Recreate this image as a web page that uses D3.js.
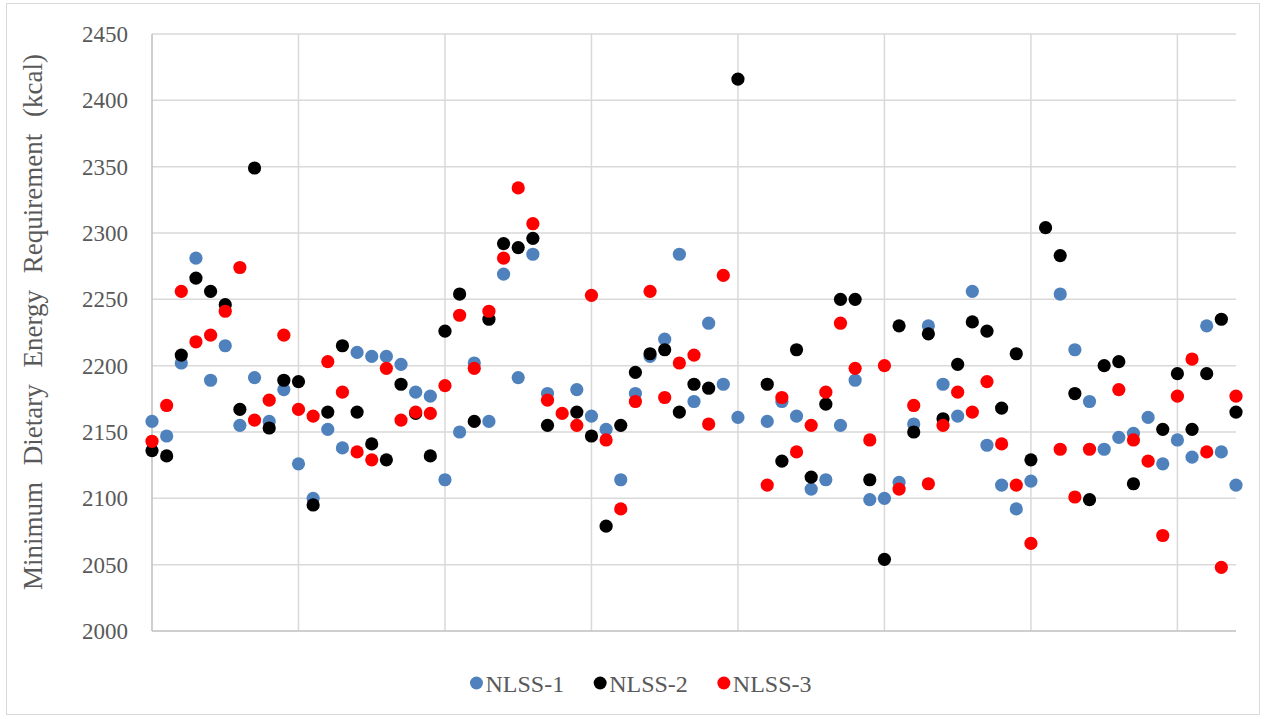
<!DOCTYPE html>
<html>

<head>
    <meta charset="utf-8">
    <title>Minimum Dietary Energy Requirement</title>
    <script src="https://d3js.org/d3.v7.min.js"></script>
    <style>
        body {
            margin: 0;
            background: #fff;
        }

        text {
            font-family: "Liberation Serif", "DejaVu Serif", serif;
            fill: #595959;
        }
    </style>
</head>

<body>
    <svg width="1266" height="719"></svg>
    <script>
        // Data: 75 observations, null where a survey has no value
        var categories = d3.range(1, 76);

        var nlss1 = [2158, 2147, 2202, 2281, 2189, 2215, 2155, 2191, 2158, 2182,
            2126, 2100, 2152, 2138, 2210, 2207, 2207, 2201, 2180, 2177,
            2114, 2150, 2202, 2158, 2269, 2191, 2284, 2179, null, 2182,
            2162, 2152, 2114, 2179, 2207, 2220, 2284, 2173, 2232, 2186,
            2161, null, 2158, 2173, 2162, 2107, 2114, 2155, 2189, 2099,
            2100, 2112, 2156, 2230, 2186, 2162, 2256, 2140, 2110, 2092,
            2113, null, 2254, 2212, 2173, 2137, 2146, 2149, 2161, 2126,
            2144, 2131, 2230, 2135, 2110];

        var nlss2 = [2136, 2132, 2208, 2266, 2256, 2246, 2167, 2349, 2153, 2189,
            2188, 2095, 2165, 2215, 2165, 2141, 2129, 2186, 2164, 2132,
            2226, 2254, 2158, 2235, 2292, 2289, 2296, 2155, null, 2165,
            2147, 2079, 2155, 2195, 2209, 2212, 2165, 2186, 2183, null,
            2416, null, 2186, 2128, 2212, 2116, 2171, 2250, 2250, 2114,
            2054, 2230, 2150, 2224, 2160, 2201, 2233, 2226, 2168, 2209,
            2129, 2304, 2283, 2179, 2099, 2200, 2203, 2111, null, 2152,
            2194, 2152, 2194, 2235, 2165];

        var nlss3 = [2143, 2170, 2256, 2218, 2223, 2241, 2274, 2159, 2174, 2223,
            2167, 2162, 2203, 2180, 2135, 2129, 2198, 2159, 2165, 2164,
            2185, 2238, 2198, 2241, 2281, 2334, 2307, 2174, 2164, 2155,
            2253, 2144, 2092, 2173, 2256, 2176, 2202, 2208, 2156, 2268,
            null, null, 2110, 2176, 2135, 2155, 2180, 2232, 2198, 2144,
            2200, 2107, 2170, 2111, 2155, 2180, 2165, 2188, 2141, 2110,
            2066, null, 2137, 2101, 2137, null, 2182, 2144, 2128, 2072,
            2177, 2205, 2135, 2048, 2177];

        var seriesNames = ["NLSS-1", "NLSS-2", "NLSS-3"];
        var seriesColors = ["#4f81bd", "#000000", "#ff0000"];
        var yTicks = [2000, 2050, 2100, 2150, 2200, 2250, 2300, 2350, 2400, 2450];

        var series = [nlss1, nlss2, nlss3];

        // Chart dimensions
        var margin = { top: 34, right: 30, bottom: 88, left: 152 };
        var width = 1266;
        var height = 719;
        var plotW = width - margin.left - margin.right;
        var plotH = height - margin.top - margin.bottom;

        var svg = d3.select("svg")
            .attr("width", width)
            .attr("height", height);

        // outer chart border
        svg.append("rect")
            .attr("x", 6.5)
            .attr("y", 3.5)
            .attr("width", 1253)
            .attr("height", 711)
            .attr("fill", "#fff")
            .attr("stroke", "#d9d9d9")
            .attr("stroke-width", 1);

        var g = svg.append("g")
            .attr("transform", "translate(" + margin.left + "," + margin.top + ")");

        // Scales
        var x = d3.scalePoint()
            .domain(categories)
            .range([0, plotW]);

        var y = d3.scaleLinear()
            .domain([2000, 2450])
            .range([plotH, 0]);

        // Horizontal gridlines
        g.append("g")
            .selectAll("line")
            .data(yTicks.slice(1))
            .enter().append("line")
            .attr("x1", 0)
            .attr("x2", plotW)
            .attr("y1", function (d) { return y(d); })
            .attr("y2", function (d) { return y(d); })
            .attr("stroke", "#d9d9d9")
            .attr("stroke-width", 1.5);

        // Vertical gridlines every 10 categories
        g.append("g")
            .selectAll("line")
            .data(categories.filter(function (c) { return (c - 1) % 10 === 0; }))
            .enter().append("line")
            .attr("x1", function (d) { return x(d); })
            .attr("x2", function (d) { return x(d); })
            .attr("y1", 0)
            .attr("y2", plotH)
            .attr("stroke", function (d) { return d === 1 ? "#bfbfbf" : "#d9d9d9"; })
            .attr("stroke-width", 1.5);

        // bottom axis line
        g.append("line")
            .attr("x1", 0)
            .attr("x2", plotW)
            .attr("y1", plotH)
            .attr("y2", plotH)
            .attr("stroke", "#bfbfbf")
            .attr("stroke-width", 1.5);

        // Y axis labels
        var yAxis = g.append("g")
            .call(d3.axisLeft(y).tickValues(yTicks).tickSize(0).tickPadding(24)
                .tickFormat(d3.format("d")));
        yAxis.select(".domain").remove();
        yAxis.selectAll("text")
            .style("font-family", "'Liberation Serif', serif")
            .style("font-size", "23px")
            .attr("fill", "#595959");

        // Y axis title
        svg.append("text")
            .attr("transform", "rotate(-90)")
            .attr("x", -322)
            .attr("y", 42)
            .attr("text-anchor", "middle")
            .style("font-size", "27px")
            .style("word-spacing", "10px")
            .text("Minimum Dietary Energy Requirement (kcal)");

        // Points
        series.forEach(function (vals, si) {
            g.append("g")
                .selectAll("circle")
                .data(vals.map(function (v, i) { return { c: categories[i], v: v }; })
                    .filter(function (d) { return d.v !== null; }))
                .enter().append("circle")
                .attr("cx", function (d) { return x(d.c); })
                .attr("cy", function (d) { return y(d.v); })
                .attr("r", 6.6)
                .attr("fill", seriesColors[si]);
        });

        // Legend
        var legend = svg.append("g");
        var lx = 0;
        seriesNames.forEach(function (name, i) {
            var item = legend.append("g").attr("transform", "translate(" + lx + ",0)");
            item.append("circle")
                .attr("cx", 6)
                .attr("cy", 0)
                .attr("r", 6.5)
                .attr("fill", seriesColors[i]);
            var t = item.append("text")
                .attr("x", 15)
                .attr("y", 8.5)
                .style("font-size", "24px")
                .text(name);
            lx += 15 + t.node().getComputedTextLength() + 30;
        });
        var legendW = lx - 30;
        legend.attr("transform", "translate(" + (641 - legendW / 2) + ",683)");
    </script>
</body>

</html>
